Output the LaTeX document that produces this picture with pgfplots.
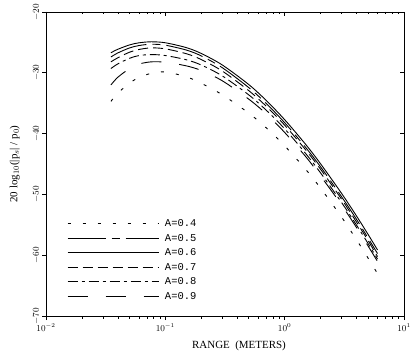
\documentclass[border=0pt]{standalone}
\usepackage{fontspec}
\setmainfont{Liberation Serif}
\setmonofont{Liberation Mono}
\usepackage{pgfplots}
\pgfplotsset{compat=1.18}
\begin{document}
\begin{tikzpicture}
\useasboundingbox (-46bp,-44bp) rectangle (365bp,316bp);
\begin{axis}[at={(0,0)}, anchor=south west, scale only axis,
  width=358bp, height=304bp,
  xmode=log, xmin=0.01, xmax=10, ymin=-70, ymax=-20,
  xtick={0.01,0.1,1,10}, ytick={-70,-60,-50,-40,-30,-20},
  major tick length=4bp, minor tick length=2.5bp,
  axis line style={line width=0.8pt},
  every tick/.style={black, line width=0.6pt},
  tick align=outside, xtick pos=left, ytick pos=left,
  ticklabel style={font=\small},
  yticklabel style={rotate=90, anchor=south, inner sep=2pt},
  xlabel={RANGE~~(METERS)},
  xlabel style={font=\fontsize{11}{13}\selectfont, xshift=14bp, yshift=-3bp},
  ylabel={20 log$_{10}$(|p$_s$| / p$_0$)},
  ylabel style={font=\fontsize{11}{13}\selectfont, yshift=8bp},
  legend cell align=left,
  legend style={at={(0.05,0.035)}, anchor=south west, draw=none, fill=none,
    font=\ttfamily\fontsize{10.5}{12}\selectfont, row sep=0.5bp,
    nodes={inner sep=1bp, text height=9bp, text depth=3bp},
    /tikz/every odd column/.append style={column sep=5bp}},
  legend image code/.code={\draw[#1] (0bp,0bp) -- (91bp,0bp);},
  every axis plot/.append style={line width=0.9pt, black, smooth},
]
% A=0.4 dotted
\addplot[dash pattern=on 3bp off 12bp] coordinates {
(0.035,-34.70) (0.04,-33.33) (0.05,-31.72) (0.06,-30.77) (0.076,-30.10) (0.1,-29.86)
(0.15,-30.66) (0.2,-31.72) (0.3,-33.61) (0.5,-36.63) (0.7,-39.04) (1.0,-42.01)
(1.5,-45.88) (2.0,-48.97) (3.0,-53.74) (4.0,-57.45) (5.0,-60.48) (6.0,-63.03)};
\addlegendentry{A=0.4}
% A=0.5
\addplot[dash pattern=on 38bp off 6bp on 8bp off 6bp] coordinates {
(0.035,-27.40) (0.04,-26.73) (0.05,-25.92) (0.06,-25.52) (0.076,-25.30) (0.1,-25.46)
(0.15,-26.26) (0.2,-27.22) (0.3,-29.16) (0.5,-32.43) (0.7,-35.04) (1.0,-38.21)
(1.5,-42.28) (2.0,-45.47) (3.0,-50.39) (4.0,-54.10) (5.0,-57.18) (6.0,-59.73)};
\addlegendentry{A=0.5}
% A=0.6 solid
\addplot[solid] coordinates {
(0.035,-26.70) (0.04,-26.13) (0.05,-25.42) (0.06,-25.07) (0.076,-24.90) (0.1,-25.06)
(0.15,-25.86) (0.2,-26.82) (0.3,-28.71) (0.5,-31.93) (0.7,-34.54) (1.0,-37.71)
(1.5,-41.78) (2.0,-44.97) (3.0,-49.84) (4.0,-53.55) (5.0,-56.58) (6.0,-59.13)};
\addlegendentry{A=0.6}
% A=0.7
\addplot[dash pattern=on 10bp off 5bp] coordinates {
(0.035,-28.20) (0.04,-27.53) (0.05,-26.62) (0.06,-26.17) (0.076,-25.90) (0.1,-26.06)
(0.15,-26.86) (0.2,-27.82) (0.3,-29.71) (0.5,-32.93) (0.7,-35.49) (1.0,-38.61)
(1.5,-42.68) (2.0,-45.87) (3.0,-50.79) (4.0,-54.55) (5.0,-57.58) (6.0,-60.23)};
\addlegendentry{A=0.7}
% A=0.8
\addplot[dash pattern=on 10bp off 4bp on 3bp off 4bp] coordinates {
(0.035,-29.30) (0.04,-28.53) (0.05,-27.62) (0.06,-27.17) (0.076,-27.00) (0.1,-27.16)
(0.15,-27.86) (0.2,-28.72) (0.3,-30.51) (0.5,-33.63) (0.7,-36.14) (1.0,-39.21)
(1.5,-43.28) (2.0,-46.47) (3.0,-51.34) (4.0,-55.05) (5.0,-58.08) (6.0,-60.63)};
\addlegendentry{A=0.8}
% A=0.9
\addplot[dash pattern=on 20bp off 18bp] coordinates {
(0.035,-32.00) (0.04,-30.73) (0.05,-29.32) (0.06,-28.57) (0.076,-28.20) (0.1,-28.26)
(0.15,-28.86) (0.2,-29.62) (0.3,-31.31) (0.5,-34.33) (0.7,-36.74) (1.0,-39.81)
(1.5,-43.78) (2.0,-46.97) (3.0,-51.74) (4.0,-55.45) (5.0,-58.48) (6.0,-61.03)};
\addlegendentry{A=0.9}
\end{axis}
\begin{axis}[at={(0,0)}, anchor=south west, scale only axis,
  width=358bp, height=304bp,
  xmode=log, xmin=0.01, xmax=10, ymin=-70, ymax=-20,
  xtick={0.01,0.1,1,10}, ytick={-70,-60,-50,-40,-30,-20},
  major tick length=4bp, minor tick length=2.5bp,
  axis line style={line width=0.8pt},
  every tick/.style={black, line width=0.6pt},
  tick align=inside, xtick pos=right, ytick pos=right,
  xticklabels={}, yticklabels={},
]
\addplot[draw=none] coordinates {(1,-50)};
\end{axis}
\end{tikzpicture}
\end{document}
